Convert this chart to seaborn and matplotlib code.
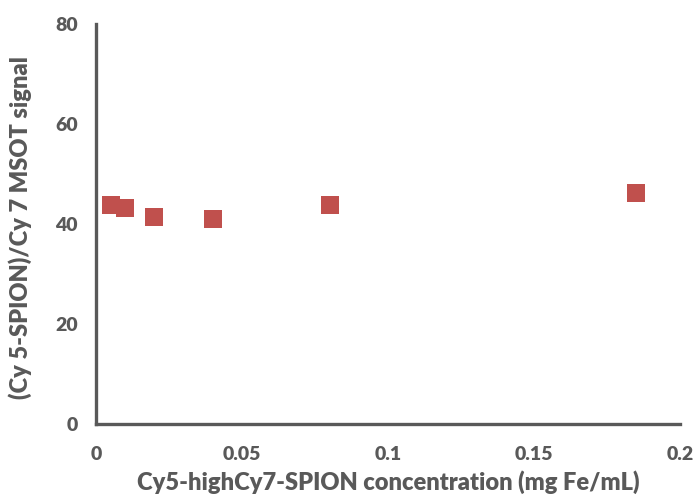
import matplotlib
matplotlib.use("Agg")
import matplotlib.pyplot as plt
import seaborn as sns
import pandas as pd

# Fe concentration of the nanoparticle dilutions and the measured signal ratio
concentration = [0.005, 0.01, 0.02, 0.04, 0.08, 0.185]
signal_ratio = [43.8, 43.3, 41.4, 41.0, 43.9, 46.3]

x_ticks = [0, 0.05, 0.1, 0.15, 0.2]
x_tick_labels = ["0", "0.05", "0.1", "0.15", "0.2"]
y_ticks = [0, 20, 40, 60, 80]

df = pd.DataFrame({"conc": concentration, "ratio": signal_ratio})

sns.set_style("white")
plt.rcParams["font.family"] = ["Lato", "DejaVu Sans"]
plt.rcParams["font.weight"] = 800

grey = "#595959"
weight = 800

fig = plt.figure(figsize=(6.98, 4.95), dpi=100)
ax = fig.add_axes([0.1375, 0.1434, 0.974 - 0.1375, 0.9515 - 0.1434])

sns.scatterplot(data=df, x="conc", y="ratio", marker="s", s=150,
                color="#C0504D", linewidth=0, ax=ax, zorder=3)

ax.set_xlim(0, 0.2)
ax.set_ylim(0, 80)
ax.set_xticks(x_ticks)
ax.set_xticklabels(x_tick_labels)
ax.set_yticks(y_ticks)

for side in ("top", "right"):
    ax.spines[side].set_visible(False)
for side in ("left", "bottom"):
    ax.spines[side].set_color(grey)
    ax.spines[side].set_linewidth(2.4)

ax.tick_params(axis="both", which="major", direction="out", length=5,
               width=2.4, color=grey, labelcolor=grey, labelsize=14)
ax.tick_params(axis="x", pad=11)
ax.tick_params(axis="y", pad=8)
for lbl in ax.get_xticklabels() + ax.get_yticklabels():
    lbl.set_fontweight(weight)

ax.set_xlabel("Cy5-highCy7-SPION concentration (mg Fe/mL)", fontsize=17,
              fontweight=weight, color=grey, va="top")
ax.set_ylabel("(Cy 5-SPION)/Cy 7 MSOT signal", fontsize=17,
              fontweight=weight, color=grey)
ax.xaxis.set_label_coords(0.5, -0.115)
ax.yaxis.set_label_coords(-0.11, 0.49)

fig.savefig("out.png", dpi=100)
